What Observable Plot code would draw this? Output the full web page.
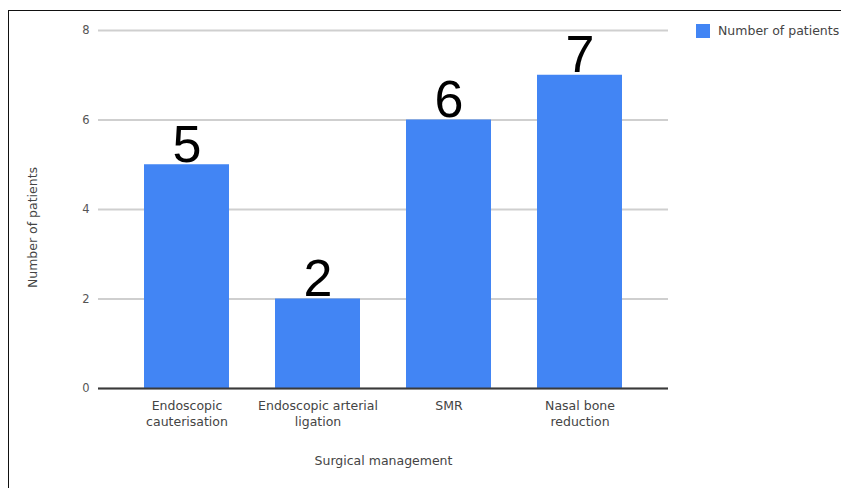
<!DOCTYPE html>
<html>
<head>
<meta charset="utf-8">
<script src="https://cdn.jsdelivr.net/npm/d3@7"></script>
<script src="https://cdn.jsdelivr.net/npm/@observablehq/plot@0.6"></script>
<style>
  html, body { margin: 0; padding: 0; background: #fff; }
  body { position: relative; width: 841px; height: 488px; overflow: hidden; }
  #frame { position: absolute; left: 8px; top: 10px; width: 900px; height: 600px;
           border-top: 1px solid #111; border-left: 1px solid #111; pointer-events: none; }
  #chart { position: absolute; left: 0; top: 0; }
  #legend { position: absolute; left: 696px; top: 14px; white-space: nowrap; }
  #legend svg { margin-right: 8px !important; }
</style>
</head>
<body>
<div id="chart"></div>
<div id="legend"></div>
<div id="frame"></div>
<script>
// Surgical management of patients: count per procedure
const categories = [
  "Endoscopic\ncauterisation",
  "Endoscopic arterial\nligation",
  "SMR",
  "Nasal bone\nreduction"
];
const patients = [5, 2, 6, 7];
const yTicks = [0, 2, 4, 6, 8];
const seriesName = "Number of patients";
const xTitle = "Surgical management";
const yTitle = "Number of patients";

const barColor = "#4285F4";
const smallFont = "DejaVu Sans, Verdana, sans-serif";

const rows = categories.map((category, i) => ({category, value: patients[i]}));

const chart = Plot.plot({
  width: 841,
  height: 488,
  marginLeft: 98,
  marginRight: 173,
  marginTop: 30,
  marginBottom: 100,
  style: {fontFamily: smallFont, fontSize: "12.5px", color: "#444", background: "transparent"},
  x: {domain: categories, padding: 0.35, label: null},
  y: {domain: [0, 8], label: null},
  marks: [
    Plot.gridY(yTicks, {stroke: "#cfcfcf", strokeOpacity: 1, strokeWidth: 2}),
    Plot.barY(rows, {x: "category", y: "value", fill: barColor}),
    Plot.ruleY([0], {stroke: "#3a3a3a", strokeWidth: 2}),
    Plot.axisY(yTicks, {tickSize: 0, tickPadding: 9, fontSize: 11.5, fill: "#555", label: null}),
    // vertical axis title, sitting a little below the frame's middle
    Plot.text([yTitle], {
      frameAnchor: "left", textAnchor: "middle", rotate: -90, dx: -66, dy: 18,
      fill: "#444", fontSize: 12.5
    }),
    Plot.axisX({
      tickSize: 0, tickPadding: 10, lineHeight: 1.28, fill: "#444",
      label: xTitle, labelArrow: "none", labelAnchor: "center", labelOffset: 76
    }),
    Plot.text(rows, {
      x: "category", y: "value", text: d => String(d.value),
      lineAnchor: "bottom", dy: -3, fontSize: 52,
      fontFamily: "Liberation Sans, Arial, sans-serif", fill: "#000"
    })
  ]
});
document.getElementById("chart").append(chart);

const legend = Plot.legend({
  color: {domain: [seriesName], range: [barColor]},
  legend: "swatches",
  swatchSize: 14,
  style: {fontFamily: smallFont, fontSize: "12.5px", color: "#444"}
});
document.getElementById("legend").append(legend);
</script>
</body>
</html>
